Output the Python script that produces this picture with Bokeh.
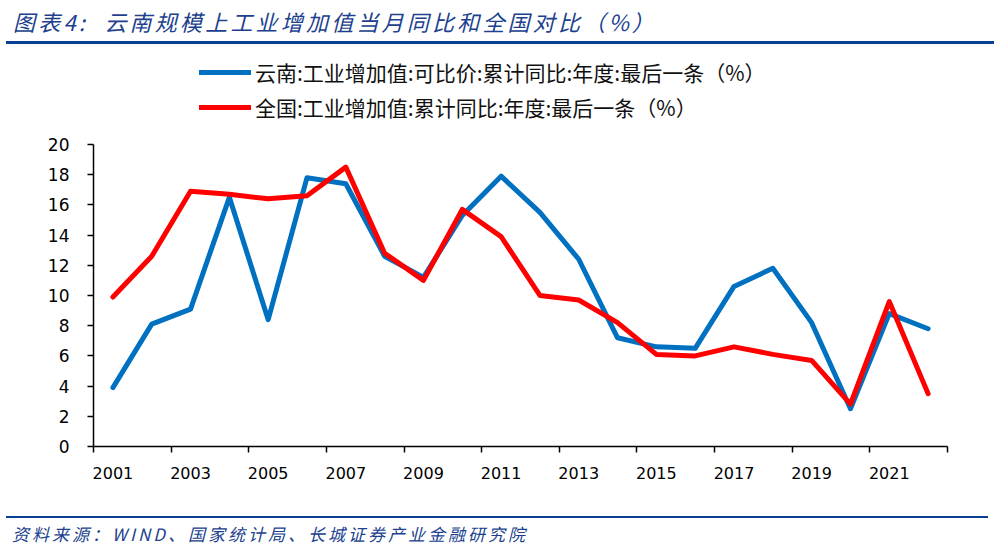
from bokeh.plotting import figure
from bokeh.models import Range1d, FixedTicker, Legend, LegendItem, Div
from bokeh.layouts import column
from bokeh.embed import file_html
from bokeh.resources import INLINE

years = list(range(2001, 2023))
yunnan = [3.9, 8.1, 9.1, 16.5, 8.4, 17.8, 17.4, 12.6, 11.2, 15.3, 17.9, 15.5,
          12.4, 7.2, 6.6, 6.5, 10.6, 11.8, 8.2, 2.5, 8.8, 7.8]
national = [9.9, 12.6, 16.9, 16.7, 16.4, 16.6, 18.5, 12.8, 11.0, 15.7, 13.9, 10.0,
            9.7, 8.2, 6.1, 6.0, 6.6, 6.1, 5.7, 2.8, 9.6, 3.5]
x_label_years = list(range(2001, 2022, 2))
y_ticks = list(range(0, 21, 2))
name_yunnan = "云南:工业增加值:可比价:累计同比:年度:最后一条（%）"
name_national = "全国:工业增加值:累计同比:年度:最后一条（%）"
title_text = "图表4:&nbsp;&nbsp;云南规模上工业增加值当月同比和全国对比（%）"
source_text = "资料来源：WIND、国家统计局、长城证券产业金融研究院"

BLUE = "#0070C0"
RED = "#FF0000"
HEAD = "#203F8E"
RULE = "#0B3F93"

p = figure(width=1008, height=472,
           x_range=Range1d(2000.5, 2022.5), y_range=Range1d(0, 26.62),
           output_backend="svg", toolbar_location=None,
           min_border_left=93, min_border_right=61,
           min_border_top=0, min_border_bottom=70)
p.outline_line_color = None
p.xgrid.visible = False
p.ygrid.visible = False
p.background_fill_color = "white"
p.border_fill_color = "white"

r1 = p.line(years, yunnan, line_color=BLUE, line_width=5,
            line_cap="round", line_join="round")
r2 = p.line(years, national, line_color=RED, line_width=5,
            line_cap="round", line_join="round")

xa = p.xaxis[0]
xa.ticker = FixedTicker(ticks=x_label_years,
                        minor_ticks=[y - 0.5 for y in range(2001, 2024, 2)])
xa.major_tick_in = 0
xa.major_tick_out = 0
xa.minor_tick_in = 0
xa.minor_tick_out = 6
xa.minor_tick_line_color = "black"
xa.minor_tick_line_width = 1.5
xa.axis_line_color = "black"
xa.axis_line_width = 1.5
xa.major_label_standoff = 14
xa.major_label_text_font = "DejaVu Sans"
xa.major_label_text_font_size = "16px"
xa.major_label_text_color = "black"

ya = p.yaxis[0]
ya.ticker = FixedTicker(ticks=y_ticks)
ya.bounds = (0, 20)
ya.major_tick_in = 0
ya.major_tick_out = 6
ya.major_tick_line_color = "black"
ya.major_tick_line_width = 1.5
ya.minor_tick_out = 0
ya.minor_tick_in = 0
ya.axis_line_color = "black"
ya.axis_line_width = 1.5
ya.major_label_standoff = 18
ya.major_label_text_font = "DejaVu Sans"
ya.major_label_text_font_size = "17px"
ya.major_label_text_color = "black"

legend = Legend(items=[LegendItem(label=name_yunnan, renderers=[r1]),
                       LegendItem(label=name_national, renderers=[r2])],
                location=(106, 324), orientation="vertical",
                glyph_width=52, glyph_height=24, label_height=24,
                spacing=5, padding=0, margin=0,
                border_line_color=None, background_fill_alpha=0,
                label_text_font="Noto Sans CJK SC",
                label_text_font_size="21px", label_text_color="#111111",
                label_standoff=4)
p.add_layout(legend)

title_div = Div(
    text=('<div style="font-family:\'Noto Sans CJK SC\';font-style:italic;'
          'font-size:22px;letter-spacing:3.2px;color:%s;line-height:26px;'
          'padding-top:8px;height:33px;border-bottom:3px solid %s;'
          'margin-left:6px;padding-left:7px;'
          'white-space:nowrap;box-sizing:content-box;width:981px;">%s</div>')
    % (HEAD, RULE, title_text),
    width=1008, height=44, margin=0)

foot_div = Div(
    text=('<div style="font-family:\'Noto Sans CJK SC\';font-style:italic;'
          'font-size:17px;letter-spacing:3px;color:%s;line-height:20px;'
          'border-top:2px solid %s;padding-top:6px;margin-left:6px;padding-left:6px;'
          'white-space:nowrap;width:982px;height:20px;">%s</div>')
    % (HEAD, RULE, source_text),
    width=1008, height=28, margin=0)

layout = column(title_div, p, foot_div, spacing=0)
open("out.html", "w").write(file_html(layout, INLINE))
